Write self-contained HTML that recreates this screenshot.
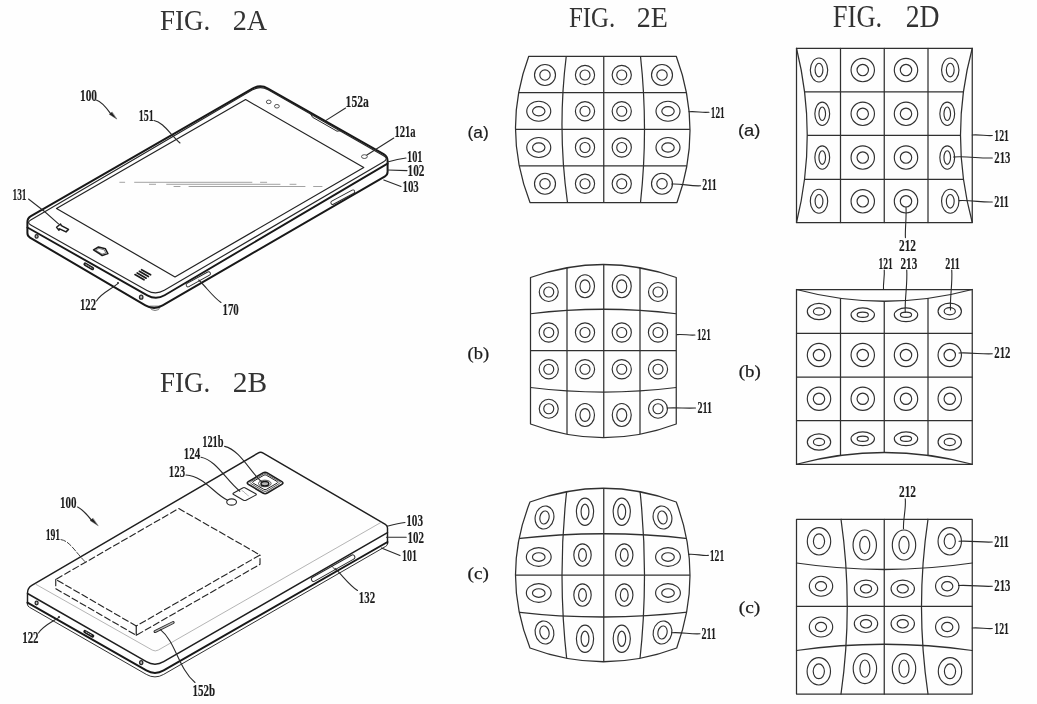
<!DOCTYPE html>
<html lang="en"><head><meta charset="utf-8"><title>FIG. 2A / 2B / 2E / 2D</title>
<style>
html,body{margin:0;padding:0;background:#fefefe;}
body{width:1037px;height:704px;overflow:hidden;font-family:"Liberation Serif",serif;}
svg{display:block;filter:grayscale(1);}
svg line, svg path{stroke-linecap:round;stroke-linejoin:round;}
</style></head>
<body>
<svg width="1037" height="704" viewBox="0 0 1037 704">
<rect x="0" y="0" width="1037" height="704" fill="#fefefe"/>
<g id="fig2a">
<text x="160" y="30.3" font-family='"Liberation Serif", serif' font-size="30" font-weight="normal" fill="#333" textLength="50.2" lengthAdjust="spacingAndGlyphs" >FIG.</text>
<text x="232.8" y="30.3" font-family='"Liberation Serif", serif' font-size="30" font-weight="normal" fill="#333" textLength="34.4" lengthAdjust="spacingAndGlyphs" >2A</text>
<path d="M149.6,306.4 L151.6,309.6 Q155,311.6 158.6,309.6 L160.4,306.4 Z" fill="#ececec" stroke="#555" stroke-width="0.7" />
<path d="M27.4,222.2 Q27.4,218.2 30.87,216.2 L252.4,88.59 Q260.2,84.1 268.03,88.54 L383.68,154.08 Q387.6,156.3 387.6,160.8 L387.6,171.8 Q387.6,174.8 385.01,176.31 L162.65,305.38 Q154,310.4 145.38,305.34 L29.99,237.62 Q27.4,236.1 27.4,233.1 Z" fill="none" stroke="#181818" stroke-width="2.0" />
<path d="M27.5,227.5 L147.3,295.37 Q156,300.3 164.61,295.22 L387.5,163.6" fill="none" stroke="#181818" stroke-width="1.9" />
<path d="M30.76,225.05 Q26.4,222.6 30.71,220.07 L252.54,89.86 Q260.3,85.3 268.12,89.76 L383.59,155.63 Q388.8,158.6 383.63,161.64 L164.32,290.34 Q155.7,295.4 146.99,290.49 Z" fill="none" stroke="#262626" stroke-width="1.15" />
<path d="M245.6,99.6 L363.75,167.5 L175,276.9 L56.5,208.5 Z" fill="none" stroke="#222" stroke-width="1.2" />
<line x1="119.8" y1="182.3" x2="124.7" y2="182.3" stroke="#7a7a7a" stroke-width="0.7" stroke-linecap="butt"/>
<line x1="134.6" y1="182.3" x2="251.9" y2="182.3" stroke="#7a7a7a" stroke-width="0.7" stroke-linecap="butt"/>
<line x1="260.5" y1="182.3" x2="266.7" y2="182.3" stroke="#7a7a7a" stroke-width="0.7" stroke-linecap="butt"/>
<line x1="149.4" y1="184.3" x2="155.6" y2="184.3" stroke="#7a7a7a" stroke-width="0.7" stroke-linecap="butt"/>
<line x1="166.7" y1="184.3" x2="280" y2="184.3" stroke="#7a7a7a" stroke-width="0.7" stroke-linecap="butt"/>
<line x1="290" y1="184.3" x2="296" y2="184.3" stroke="#7a7a7a" stroke-width="0.7" stroke-linecap="butt"/>
<line x1="174" y1="186.5" x2="180" y2="186.5" stroke="#7a7a7a" stroke-width="0.7" stroke-linecap="butt"/>
<line x1="189" y1="186.5" x2="305" y2="186.5" stroke="#7a7a7a" stroke-width="0.7" stroke-linecap="butt"/>
<line x1="313.6" y1="186.5" x2="322" y2="186.5" stroke="#7a7a7a" stroke-width="0.7" stroke-linecap="butt"/>
<ellipse cx="268.75" cy="101.9" rx="2.4" ry="1.8" fill="none" stroke="#2a2a2a" stroke-width="0.8"/>
<ellipse cx="276.9" cy="106.25" rx="2.4" ry="1.8" fill="none" stroke="#2a2a2a" stroke-width="0.8"/>
<ellipse cx="364.4" cy="156.6" rx="2.9" ry="1.9" fill="none" stroke="#2a2a2a" stroke-width="0.8"/>
<path d="M310.2,113.2 L312.6,117.3 L337.0,131.2 L341,130.6" fill="none" stroke="#2a2a2a" stroke-width="1.0" />
<line x1="188" y1="285" x2="208.6" y2="273.6" stroke="#2a2a2a" stroke-width="4.6" stroke-linecap="round"/>
<line x1="188" y1="285" x2="208.6" y2="273.6" stroke="#fefefe" stroke-width="2.8" stroke-linecap="round"/>
<line x1="332.6" y1="202.7" x2="353" y2="191.7" stroke="#2a2a2a" stroke-width="4.4" stroke-linecap="round"/>
<line x1="332.6" y1="202.7" x2="353" y2="191.7" stroke="#fefefe" stroke-width="2.6" stroke-linecap="round"/>
<ellipse cx="36.6" cy="236.4" rx="1.5" ry="1.8" fill="#bbb" stroke="#2a2a2a" stroke-width="1.3"/>
<ellipse cx="141.2" cy="297.2" rx="1.7" ry="2" fill="#bbb" stroke="#2a2a2a" stroke-width="1.3"/>
<line x1="85.2" y1="264.2" x2="92.4" y2="268.5" stroke="#1c1c1c" stroke-width="3.5" stroke-linecap="round"/>
<line x1="85.8" y1="264.5" x2="92" y2="268.2" stroke="#bbb" stroke-width="1.0" stroke-linecap="round" stroke-dasharray="1.2 1.2"/>
<ellipse cx="118" cy="283" rx="0.7" ry="0.7" fill="#222" stroke="#2a2a2a" stroke-width="0.8"/>
<path d="M56.6,227.2 L60.4,224 L61.4,225.6 L68.5,229.4 L66,231.9 L59.6,228.8 L59,230.2 Z" fill="none" stroke="#1c1c1c" stroke-width="1.5" />
<path d="M93.5,249.8 L98.5,247 L105.4,248.8 L107.9,253.6 L102.2,255.5 Z" fill="none" stroke="#1c1c1c" stroke-width="1.5" />
<path d="M96,250 L99,248.4 L104.2,249.9 L105.8,252.9 L102.4,254 Z" fill="none" stroke="#2a2a2a" stroke-width="0.6" />
<line x1="135" y1="274.6" x2="144" y2="279.8" stroke="#1c1c1c" stroke-width="1.7" />
<line x1="137.2" y1="272.95" x2="146.2" y2="278.15" stroke="#1c1c1c" stroke-width="1.7" />
<line x1="139.4" y1="271.3" x2="148.4" y2="276.5" stroke="#1c1c1c" stroke-width="1.7" />
<line x1="141.6" y1="269.65" x2="150.6" y2="274.85" stroke="#1c1c1c" stroke-width="1.7" />
<text x="80" y="101" font-family='"Liberation Serif", serif' font-size="16" font-weight="bold" fill="#1c1c1c" stroke="#1c1c1c" stroke-width="0.15" textLength="17" lengthAdjust="spacingAndGlyphs" >100</text>
<path d="M96.2,100 C101.5,101.5 105.5,106.5 110.6,113.6" fill="none" stroke="#2a2a2a" stroke-width="1.2" />
<path d="M116.6,118.9 L109.3,114.3 L111.9,112.2 Z" fill="#222" stroke="#2a2a2a" stroke-width="0.4" />
<text x="138.7" y="120.5" font-family='"Liberation Serif", serif' font-size="16" font-weight="bold" fill="#1c1c1c" stroke="#1c1c1c" stroke-width="0.15" textLength="15" lengthAdjust="spacingAndGlyphs" >151</text>
<path d="M154,120.5 C163,122 170,134 180,143" fill="none" stroke="#2a2a2a" stroke-width="1.1" />
<text x="12.5" y="200" font-family='"Liberation Serif", serif' font-size="16" font-weight="bold" fill="#1c1c1c" stroke="#1c1c1c" stroke-width="0.15" textLength="14" lengthAdjust="spacingAndGlyphs" >131</text>
<path d="M28.5,199 C38,206 48,214 58.5,223.8" fill="none" stroke="#2a2a2a" stroke-width="1.1" />
<text x="80" y="310" font-family='"Liberation Serif", serif' font-size="16" font-weight="bold" fill="#1c1c1c" stroke="#1c1c1c" stroke-width="0.15" textLength="16" lengthAdjust="spacingAndGlyphs" >122</text>
<path d="M96.5,301 C101,293 110,290 117.5,283.8" fill="none" stroke="#2a2a2a" stroke-width="1.1" />
<text x="222.5" y="315" font-family='"Liberation Serif", serif' font-size="16" font-weight="bold" fill="#1c1c1c" stroke="#1c1c1c" stroke-width="0.15" textLength="16.3" lengthAdjust="spacingAndGlyphs" >170</text>
<path d="M221,302.5 C213,297 207,288 198.8,280" fill="none" stroke="#2a2a2a" stroke-width="1.1" />
<text x="345.6" y="107" font-family='"Liberation Serif", serif' font-size="16" font-weight="bold" fill="#1c1c1c" stroke="#1c1c1c" stroke-width="0.15" textLength="23.2" lengthAdjust="spacingAndGlyphs" >152a</text>
<path d="M345.6,108 L325.6,120.6" fill="none" stroke="#2a2a2a" stroke-width="1.1" />
<text x="394.4" y="137" font-family='"Liberation Serif", serif' font-size="16" font-weight="bold" fill="#1c1c1c" stroke="#1c1c1c" stroke-width="0.15" textLength="21.2" lengthAdjust="spacingAndGlyphs" >121a</text>
<path d="M393.8,138 L366.9,155" fill="none" stroke="#2a2a2a" stroke-width="1.1" />
<text x="407" y="162" font-family='"Liberation Serif", serif' font-size="16" font-weight="bold" fill="#1c1c1c" stroke="#1c1c1c" stroke-width="0.15" textLength="15.5" lengthAdjust="spacingAndGlyphs" >101</text>
<path d="M406,158 C399,159 393,160.5 387.5,162" fill="none" stroke="#2a2a2a" stroke-width="1.1" />
<text x="407.5" y="175.6" font-family='"Liberation Serif", serif' font-size="16" font-weight="bold" fill="#1c1c1c" stroke="#1c1c1c" stroke-width="0.15" textLength="17" lengthAdjust="spacingAndGlyphs" >102</text>
<path d="M407,170.6 L387.5,170" fill="none" stroke="#2a2a2a" stroke-width="1.1" />
<text x="402.5" y="192" font-family='"Liberation Serif", serif' font-size="16" font-weight="bold" fill="#1c1c1c" stroke="#1c1c1c" stroke-width="0.15" textLength="16.3" lengthAdjust="spacingAndGlyphs" >103</text>
<path d="M401,186.5 L383.8,180" fill="none" stroke="#2a2a2a" stroke-width="1.1" />
</g>
<g id="fig2b">
<text x="160" y="391.7" font-family='"Liberation Serif", serif' font-size="30" font-weight="normal" fill="#333" textLength="50.2" lengthAdjust="spacingAndGlyphs" >FIG.</text>
<text x="232.8" y="391.7" font-family='"Liberation Serif", serif' font-size="30" font-weight="normal" fill="#333" textLength="34.4" lengthAdjust="spacingAndGlyphs" >2B</text>
<path d="M27.5,604 L27.5,592.9 Q27.5,587.9 31.82,585.38 L258.01,453.11 Q260.6,451.6 263.19,453.11 L385.34,524.34 Q387.5,525.6 387.5,528.1 L387.5,543.5" fill="none" stroke="#1e1e1e" stroke-width="1.45" />
<path d="M27.5,603 L27.55,604.6 Q27.6,606.2 29.33,607.2 L146.33,674.42 Q155,679.4 163.66,674.4 L385.67,546.4 Q387.4,545.4 387.45,543.95 L387.5,542.5" fill="none" stroke="#262626" stroke-width="0.95" />
<path d="M27.5,602.6 L146.32,670.44 Q155,675.4 163.67,670.42 L387.5,542" fill="none" stroke="#181818" stroke-width="1.95" />
<path d="M27.5,593.5 L146.33,661.72 Q155,666.7 163.66,661.71 L387.5,532.7" fill="none" stroke="#1e1e1e" stroke-width="1.5" />
<path d="M36,584.4 L152.25,650.08 Q155.3,651.8 158.34,650.06 L381,522.4" fill="none" stroke="#8c8c8c" stroke-width="0.65" />
<path d="M136.25,626 L55.75,579.4 L178.75,508.5 L260,555 Z" fill="none" stroke="#262626" stroke-width="1.15" stroke-dasharray="6.3 3.1" stroke-linecap="butt"/>
<path d="M55.75,579.4 L55.75,588.7 L136.25,635.3 L260,564.3 L260,555" fill="none" stroke="#262626" stroke-width="1.15" stroke-dasharray="6.3 3.1" stroke-linecap="butt"/>
<line x1="136.25" y1="626" x2="136.25" y2="635.3" stroke="#1e1e1e" stroke-width="1.2" />
<path d="M248.32,484.35 Q246.1,483 248.32,481.65 L262.88,472.85 Q265.1,471.5 267.32,472.85 L281.88,481.65 Q284.1,483 281.88,484.35 L267.32,493.15 Q265.1,494.5 262.88,493.15 Z" fill="none" stroke="#1a1a1a" stroke-width="1.5" />
<path d="M248.6,484.0 L265.1,493.4 L281.6,484.0" fill="none" stroke="#333" stroke-width="0.7" />
<path d="M250.82,483.52 Q249.1,482.5 250.82,481.48 L263.38,474.02 Q265.1,473 266.82,474.02 L279.38,481.48 Q281.1,482.5 279.38,483.52 L266.82,490.98 Q265.1,492 263.38,490.98 Z" fill="none" stroke="#2a2a2a" stroke-width="0.8" />
<path d="M252.91,483 Q251.7,482.3 252.91,481.6 L263.89,475.2 Q265.1,474.5 266.31,475.2 L277.29,481.6 Q278.5,482.3 277.29,483 L266.31,489.4 Q265.1,490.1 263.89,489.4 Z" fill="none" stroke="#222" stroke-width="1.0" />
<ellipse cx="264.8" cy="483.5" rx="6.3" ry="3.3" fill="none" stroke="#2a2a2a" stroke-width="0.8"/>
<ellipse cx="264.9" cy="483.7" rx="3.9" ry="2.2" fill="#b5b5b5" stroke="#161616" stroke-width="1.5"/>
<path d="M233.6,494.54 Q232.3,493.8 233.61,493.06 L242.69,487.94 Q244,487.2 245.31,487.93 L255.69,493.67 Q257,494.4 255.68,495.11 L246.12,500.19 Q244.8,500.9 243.5,500.16 Z" fill="none" stroke="#2a2a2a" stroke-width="1.1" />
<path d="M242,490.6 l2,1.2 l1,1.4 l2.2,1.4 l1.2,1.4" fill="none" stroke="#9a9a9a" stroke-width="0.7" />
<ellipse cx="231.6" cy="502" rx="4.9" ry="3.1" fill="none" stroke="#2a2a2a" stroke-width="1.1"/>
<line x1="155" y1="631.6" x2="173.2" y2="622.5" stroke="#2a2a2a" stroke-width="2.9" stroke-linecap="round"/>
<line x1="155.2" y1="631.5" x2="173" y2="622.6" stroke="#bdbdbd" stroke-width="1.2" stroke-linecap="round"/>
<line x1="313.6" y1="579.2" x2="352.6" y2="557.2" stroke="#2a2a2a" stroke-width="5.4" stroke-linecap="round"/>
<line x1="313.6" y1="579.2" x2="352.6" y2="557.2" stroke="#fefefe" stroke-width="3.6" stroke-linecap="round"/>
<line x1="332" y1="566.2" x2="335.4" y2="570.2" stroke="#2a2a2a" stroke-width="0.8" />
<ellipse cx="36.6" cy="603" rx="1.5" ry="1.8" fill="#bbb" stroke="#2a2a2a" stroke-width="1.3"/>
<ellipse cx="141.2" cy="662.6" rx="1.6" ry="2" fill="#bbb" stroke="#2a2a2a" stroke-width="1.3"/>
<line x1="85" y1="631.6" x2="92.6" y2="636" stroke="#1c1c1c" stroke-width="3.4" stroke-linecap="round"/>
<line x1="86" y1="632" x2="91.8" y2="635.4" stroke="#bbb" stroke-width="1.0" stroke-linecap="round" stroke-dasharray="1.2 1.2"/>
<ellipse cx="59" cy="617" rx="0.7" ry="0.7" fill="#222" stroke="#2a2a2a" stroke-width="0.8"/>
<text x="60" y="508" font-family='"Liberation Serif", serif' font-size="16" font-weight="bold" fill="#1c1c1c" stroke="#1c1c1c" stroke-width="0.15" textLength="16.5" lengthAdjust="spacingAndGlyphs" >100</text>
<path d="M77.6,507 C82,509 86.5,514 91.4,520" fill="none" stroke="#2a2a2a" stroke-width="1.2" />
<path d="M97.9,525.6 L90.2,520.6 L92.8,518.4 Z" fill="#222" stroke="#2a2a2a" stroke-width="0.4" />
<text x="45.7" y="540" font-family='"Liberation Serif", serif' font-size="16" font-weight="bold" fill="#1c1c1c" stroke="#1c1c1c" stroke-width="0.15" textLength="14.5" lengthAdjust="spacingAndGlyphs" >191</text>
<path d="M61,539.6 C70,541 76,553 86,562.6" fill="none" stroke="#2a2a2a" stroke-width="0.9" stroke-dasharray="5 2"/>
<text x="22.2" y="643" font-family='"Liberation Serif", serif' font-size="16" font-weight="bold" fill="#1c1c1c" stroke="#1c1c1c" stroke-width="0.15" textLength="16.4" lengthAdjust="spacingAndGlyphs" >122</text>
<path d="M38.5,633 C43,626 52,622 58.6,617.6" fill="none" stroke="#2a2a2a" stroke-width="1.1" />
<text x="168.8" y="476.6" font-family='"Liberation Serif", serif' font-size="16" font-weight="bold" fill="#1c1c1c" stroke="#1c1c1c" stroke-width="0.15" textLength="16.3" lengthAdjust="spacingAndGlyphs" >123</text>
<path d="M186,475 C204,476 214,494 227.6,500.2" fill="none" stroke="#2a2a2a" stroke-width="1.1" />
<text x="183.8" y="459" font-family='"Liberation Serif", serif' font-size="16" font-weight="bold" fill="#1c1c1c" stroke="#1c1c1c" stroke-width="0.15" textLength="16.4" lengthAdjust="spacingAndGlyphs" >124</text>
<path d="M201,457.2 C216,460 226,480 239.8,491.2" fill="none" stroke="#2a2a2a" stroke-width="1.1" />
<text x="202.2" y="447.3" font-family='"Liberation Serif", serif' font-size="16" font-weight="bold" fill="#1c1c1c" stroke="#1c1c1c" stroke-width="0.15" textLength="21.4" lengthAdjust="spacingAndGlyphs" >121b</text>
<path d="M224.6,446.4 C240,450 250,472 262.2,482.4" fill="none" stroke="#2a2a2a" stroke-width="1.1" />
<text x="406.2" y="525.8" font-family='"Liberation Serif", serif' font-size="16" font-weight="bold" fill="#1c1c1c" stroke="#1c1c1c" stroke-width="0.15" textLength="16.8" lengthAdjust="spacingAndGlyphs" >103</text>
<path d="M405,522.5 C398,523.5 392,525 387,526.2" fill="none" stroke="#2a2a2a" stroke-width="1.1" />
<text x="407.5" y="542.8" font-family='"Liberation Serif", serif' font-size="16" font-weight="bold" fill="#1c1c1c" stroke="#1c1c1c" stroke-width="0.15" textLength="16.4" lengthAdjust="spacingAndGlyphs" >102</text>
<path d="M406.2,537.3 L386.5,537.3" fill="none" stroke="#2a2a2a" stroke-width="1.1" />
<text x="402" y="561.2" font-family='"Liberation Serif", serif' font-size="16" font-weight="bold" fill="#1c1c1c" stroke="#1c1c1c" stroke-width="0.15" textLength="15" lengthAdjust="spacingAndGlyphs" >101</text>
<path d="M400,555.6 L381.4,548" fill="none" stroke="#2a2a2a" stroke-width="1.1" />
<text x="358.8" y="603" font-family='"Liberation Serif", serif' font-size="16" font-weight="bold" fill="#1c1c1c" stroke="#1c1c1c" stroke-width="0.15" textLength="16.3" lengthAdjust="spacingAndGlyphs" >132</text>
<path d="M357.5,590.5 C349,585 343,576 335,568.4" fill="none" stroke="#2a2a2a" stroke-width="1.1" />
<text x="192.5" y="696" font-family='"Liberation Serif", serif' font-size="16" font-weight="bold" fill="#1c1c1c" stroke="#1c1c1c" stroke-width="0.15" textLength="22.6" lengthAdjust="spacingAndGlyphs" >152b</text>
<path d="M195,682.5 C178,668 176,642 160.4,629.6" fill="none" stroke="#2a2a2a" stroke-width="1.1" />
</g>
<g id="fig2e">
<text x="569" y="27.4" font-family='"Liberation Serif", serif' font-size="28.5" font-weight="normal" fill="#333" textLength="46.3" lengthAdjust="spacingAndGlyphs" >FIG.</text>
<text x="636.8" y="27.4" font-family='"Liberation Serif", serif' font-size="28.5" font-weight="normal" fill="#333" textLength="31.1" lengthAdjust="spacingAndGlyphs" >2E</text>
<clipPath id="clip1"><path d="M528.75,56.25 L676.25,56.25 Q703.38,129.43 677,202.5 L530,202.5 Q501.62,129.43 528.75,56.25 Z"/></clipPath>
<g clip-path="url(#clip1)">
<path d="M566.25,56.25 Q557.12,129.43 567.5,202.5 " fill="none" stroke="#303030" stroke-width="1.25" />
<path d="M603.75,56.25 L603.75,202.5" fill="none" stroke="#303030" stroke-width="1.25" />
<path d="M640.5,56.25 Q648.5,129.43 640.5,202.5 " fill="none" stroke="#303030" stroke-width="1.25" />
<path d="M505,92.5 L700,92.5" fill="none" stroke="#303030" stroke-width="1.25" />
<path d="M505,129.25 L700,129.25" fill="none" stroke="#303030" stroke-width="1.25" />
<path d="M505,165.75 L700,165.75" fill="none" stroke="#303030" stroke-width="1.25" />
</g>
<path d="M528.75,56.25 L676.25,56.25 Q703.38,129.43 677,202.5 L530,202.5 Q501.62,129.43 528.75,56.25 Z" fill="none" stroke="#303030" stroke-width="1.25" />
<ellipse cx="545" cy="75" rx="10.5" ry="10.5" fill="none" stroke="#303030" stroke-width="1.15"/>
<ellipse cx="545" cy="75" rx="5.2" ry="5.2" fill="none" stroke="#303030" stroke-width="1.15"/>
<ellipse cx="585" cy="75" rx="9.6" ry="9.6" fill="none" stroke="#303030" stroke-width="1.15"/>
<ellipse cx="585" cy="75" rx="5" ry="5" fill="none" stroke="#303030" stroke-width="1.15"/>
<ellipse cx="621.75" cy="75" rx="9.6" ry="9.6" fill="none" stroke="#303030" stroke-width="1.15"/>
<ellipse cx="621.75" cy="75" rx="5" ry="5" fill="none" stroke="#303030" stroke-width="1.15"/>
<ellipse cx="662" cy="75" rx="10.5" ry="10.5" fill="none" stroke="#303030" stroke-width="1.15"/>
<ellipse cx="662" cy="75" rx="5.2" ry="5.2" fill="none" stroke="#303030" stroke-width="1.15"/>
<ellipse cx="545" cy="183.75" rx="10.5" ry="10.5" fill="none" stroke="#303030" stroke-width="1.15"/>
<ellipse cx="545" cy="183.75" rx="5.2" ry="5.2" fill="none" stroke="#303030" stroke-width="1.15"/>
<ellipse cx="585" cy="183.75" rx="9.6" ry="9.6" fill="none" stroke="#303030" stroke-width="1.15"/>
<ellipse cx="585" cy="183.75" rx="5" ry="5" fill="none" stroke="#303030" stroke-width="1.15"/>
<ellipse cx="621.75" cy="183.75" rx="9.6" ry="9.6" fill="none" stroke="#303030" stroke-width="1.15"/>
<ellipse cx="621.75" cy="183.75" rx="5" ry="5" fill="none" stroke="#303030" stroke-width="1.15"/>
<ellipse cx="662" cy="183.75" rx="10.5" ry="10.5" fill="none" stroke="#303030" stroke-width="1.15"/>
<ellipse cx="662" cy="183.75" rx="5.2" ry="5.2" fill="none" stroke="#303030" stroke-width="1.15"/>
<ellipse cx="538.75" cy="111.25" rx="12" ry="10" fill="none" stroke="#303030" stroke-width="1.15"/>
<ellipse cx="538.75" cy="111.25" rx="6.2" ry="4.6" fill="none" stroke="#303030" stroke-width="1.15"/>
<ellipse cx="585" cy="111.25" rx="9.6" ry="9.6" fill="none" stroke="#303030" stroke-width="1.15"/>
<ellipse cx="585" cy="111.25" rx="5" ry="5" fill="none" stroke="#303030" stroke-width="1.15"/>
<ellipse cx="621.75" cy="111.25" rx="9.6" ry="9.6" fill="none" stroke="#303030" stroke-width="1.15"/>
<ellipse cx="621.75" cy="111.25" rx="5" ry="5" fill="none" stroke="#303030" stroke-width="1.15"/>
<ellipse cx="668" cy="111.25" rx="12" ry="10" fill="none" stroke="#303030" stroke-width="1.15"/>
<ellipse cx="668" cy="111.25" rx="6.2" ry="4.6" fill="none" stroke="#303030" stroke-width="1.15"/>
<ellipse cx="538.75" cy="147.5" rx="12" ry="10" fill="none" stroke="#303030" stroke-width="1.15"/>
<ellipse cx="538.75" cy="147.5" rx="6.2" ry="4.6" fill="none" stroke="#303030" stroke-width="1.15"/>
<ellipse cx="585" cy="147.5" rx="9.6" ry="9.6" fill="none" stroke="#303030" stroke-width="1.15"/>
<ellipse cx="585" cy="147.5" rx="5" ry="5" fill="none" stroke="#303030" stroke-width="1.15"/>
<ellipse cx="621.75" cy="147.5" rx="9.6" ry="9.6" fill="none" stroke="#303030" stroke-width="1.15"/>
<ellipse cx="621.75" cy="147.5" rx="5" ry="5" fill="none" stroke="#303030" stroke-width="1.15"/>
<ellipse cx="668" cy="147.5" rx="12" ry="10" fill="none" stroke="#303030" stroke-width="1.15"/>
<ellipse cx="668" cy="147.5" rx="6.2" ry="4.6" fill="none" stroke="#303030" stroke-width="1.15"/>
<text x="467.6" y="137.8" font-family='"Liberation Sans", sans-serif' font-size="17" font-weight="normal" fill="#1c1c1c" textLength="21.2" lengthAdjust="spacingAndGlyphs" stroke="#1c1c1c" stroke-width="0.2">(a)</text>
<text x="710.8" y="117.6" font-family='"Liberation Serif", serif' font-size="16" font-weight="bold" fill="#1c1c1c" stroke="#1c1c1c" stroke-width="0.15" textLength="13.8" lengthAdjust="spacingAndGlyphs" >121</text>
<path d="M688.8,111.8 C696,111 702,113 709,112.2" fill="none" stroke="#2a2a2a" stroke-width="1.1" />
<text x="702.3" y="190.2" font-family='"Liberation Serif", serif' font-size="16" font-weight="bold" fill="#1c1c1c" stroke="#1c1c1c" stroke-width="0.15" textLength="14.3" lengthAdjust="spacingAndGlyphs" >211</text>
<path d="M671.6,184 C682,183.4 690,186.4 700.6,185.8" fill="none" stroke="#2a2a2a" stroke-width="1.1" />
<clipPath id="clip2"><path d="M530.5,277.5 Q603.42,251.5 676.25,277.5 L676.25,424 Q603.42,451.4 530.5,424 Z"/></clipPath>
<g clip-path="url(#clip2)">
<path d="M567,250 L567,450" fill="none" stroke="#303030" stroke-width="1.25" />
<path d="M603.75,250 L603.75,450" fill="none" stroke="#303030" stroke-width="1.25" />
<path d="M640,250 L640,450" fill="none" stroke="#303030" stroke-width="1.25" />
<path d="M530.5,313.75 Q603.42,304.75 676.25,313.75 " fill="none" stroke="#303030" stroke-width="1.25" />
<path d="M530.5,350.5 L676.25,350.5" fill="none" stroke="#303030" stroke-width="1.25" />
<path d="M530.5,387.5 Q603.42,396.5 676.25,387.5 " fill="none" stroke="#303030" stroke-width="1.25" />
</g>
<path d="M530.5,277.5 Q603.42,251.5 676.25,277.5 L676.25,424 Q603.42,451.4 530.5,424 Z" fill="none" stroke="#303030" stroke-width="1.25" />
<ellipse cx="548.75" cy="292" rx="9.5" ry="9.5" fill="none" stroke="#303030" stroke-width="1.15"/>
<ellipse cx="548.75" cy="292" rx="5" ry="5" fill="none" stroke="#303030" stroke-width="1.15"/>
<ellipse cx="658" cy="292" rx="9.5" ry="9.5" fill="none" stroke="#303030" stroke-width="1.15"/>
<ellipse cx="658" cy="292" rx="5" ry="5" fill="none" stroke="#303030" stroke-width="1.15"/>
<ellipse cx="585" cy="286.25" rx="9.5" ry="11.5" fill="none" stroke="#303030" stroke-width="1.15"/>
<ellipse cx="585" cy="286.25" rx="5" ry="6.4" fill="none" stroke="#303030" stroke-width="1.15"/>
<ellipse cx="621.75" cy="286.25" rx="9.5" ry="11.5" fill="none" stroke="#303030" stroke-width="1.15"/>
<ellipse cx="621.75" cy="286.25" rx="5" ry="6.4" fill="none" stroke="#303030" stroke-width="1.15"/>
<ellipse cx="548.75" cy="332.5" rx="9.6" ry="9.6" fill="none" stroke="#303030" stroke-width="1.15"/>
<ellipse cx="548.75" cy="332.5" rx="5" ry="5" fill="none" stroke="#303030" stroke-width="1.15"/>
<ellipse cx="585" cy="332.5" rx="9.6" ry="9.6" fill="none" stroke="#303030" stroke-width="1.15"/>
<ellipse cx="585" cy="332.5" rx="5" ry="5" fill="none" stroke="#303030" stroke-width="1.15"/>
<ellipse cx="621.75" cy="332.5" rx="9.6" ry="9.6" fill="none" stroke="#303030" stroke-width="1.15"/>
<ellipse cx="621.75" cy="332.5" rx="5" ry="5" fill="none" stroke="#303030" stroke-width="1.15"/>
<ellipse cx="658" cy="332.5" rx="9.6" ry="9.6" fill="none" stroke="#303030" stroke-width="1.15"/>
<ellipse cx="658" cy="332.5" rx="5" ry="5" fill="none" stroke="#303030" stroke-width="1.15"/>
<ellipse cx="548.75" cy="369.25" rx="9.6" ry="9.6" fill="none" stroke="#303030" stroke-width="1.15"/>
<ellipse cx="548.75" cy="369.25" rx="5" ry="5" fill="none" stroke="#303030" stroke-width="1.15"/>
<ellipse cx="585" cy="369.25" rx="9.6" ry="9.6" fill="none" stroke="#303030" stroke-width="1.15"/>
<ellipse cx="585" cy="369.25" rx="5" ry="5" fill="none" stroke="#303030" stroke-width="1.15"/>
<ellipse cx="621.75" cy="369.25" rx="9.6" ry="9.6" fill="none" stroke="#303030" stroke-width="1.15"/>
<ellipse cx="621.75" cy="369.25" rx="5" ry="5" fill="none" stroke="#303030" stroke-width="1.15"/>
<ellipse cx="658" cy="369.25" rx="9.6" ry="9.6" fill="none" stroke="#303030" stroke-width="1.15"/>
<ellipse cx="658" cy="369.25" rx="5" ry="5" fill="none" stroke="#303030" stroke-width="1.15"/>
<ellipse cx="548.75" cy="408.75" rx="9.5" ry="9.5" fill="none" stroke="#303030" stroke-width="1.15"/>
<ellipse cx="548.75" cy="408.75" rx="5" ry="5" fill="none" stroke="#303030" stroke-width="1.15"/>
<ellipse cx="658" cy="408.75" rx="9.5" ry="9.5" fill="none" stroke="#303030" stroke-width="1.15"/>
<ellipse cx="658" cy="408.75" rx="5" ry="5" fill="none" stroke="#303030" stroke-width="1.15"/>
<ellipse cx="585" cy="415" rx="9.5" ry="11.5" fill="none" stroke="#303030" stroke-width="1.15"/>
<ellipse cx="585" cy="415" rx="5" ry="6.4" fill="none" stroke="#303030" stroke-width="1.15"/>
<ellipse cx="621.75" cy="415" rx="9.5" ry="11.5" fill="none" stroke="#303030" stroke-width="1.15"/>
<ellipse cx="621.75" cy="415" rx="5" ry="6.4" fill="none" stroke="#303030" stroke-width="1.15"/>
<text x="467.6" y="359" font-family='"Liberation Serif", serif' font-size="16.5" font-weight="normal" fill="#1c1c1c" textLength="21.5" lengthAdjust="spacingAndGlyphs" stroke="#1c1c1c" stroke-width="0.25">(b)</text>
<text x="697" y="340" font-family='"Liberation Serif", serif' font-size="16" font-weight="bold" fill="#1c1c1c" stroke="#1c1c1c" stroke-width="0.15" textLength="13.8" lengthAdjust="spacingAndGlyphs" >121</text>
<path d="M677,334.6 C684,334 689,335.6 695,335" fill="none" stroke="#2a2a2a" stroke-width="1.1" />
<text x="697.5" y="412.5" font-family='"Liberation Serif", serif' font-size="16" font-weight="bold" fill="#1c1c1c" stroke="#1c1c1c" stroke-width="0.15" textLength="14.5" lengthAdjust="spacingAndGlyphs" >211</text>
<path d="M667,408 C678,407.4 686,408.6 695.5,408" fill="none" stroke="#2a2a2a" stroke-width="1.1" />
<clipPath id="clip3"><path d="M530,502 Q603.67,474.5 676.25,502 Q703.52,575 676.7,648 Q603.45,675.5 530,648 Q501,575 530,502 Z"/></clipPath>
<g clip-path="url(#clip3)">
<path d="M568,480 Q556,575 568,670 " fill="none" stroke="#303030" stroke-width="1.25" />
<path d="M603.75,480 L603.75,670" fill="none" stroke="#303030" stroke-width="1.25" />
<path d="M638.75,480 Q650.25,575 638.75,670 " fill="none" stroke="#303030" stroke-width="1.25" />
<path d="M510,539.5 Q603.8,528 696,539.5 " fill="none" stroke="#303030" stroke-width="1.25" />
<path d="M510,575 L696,575" fill="none" stroke="#303030" stroke-width="1.25" />
<path d="M510,611.2 Q603.8,622.8 696,611.2 " fill="none" stroke="#303030" stroke-width="1.25" />
</g>
<path d="M530,502 Q603.67,474.5 676.25,502 Q703.52,575 676.7,648 Q603.45,675.5 530,648 Q501,575 530,502 Z" fill="none" stroke="#303030" stroke-width="1.25" />
<ellipse cx="544.5" cy="517.5" rx="9.3" ry="11.6" fill="none" stroke="#303030" stroke-width="1.15" transform="rotate(12 544.5 517.5)"/>
<ellipse cx="544.5" cy="517.5" rx="4.6" ry="6.6" fill="none" stroke="#303030" stroke-width="1.15" transform="rotate(12 544.5 517.5)"/>
<ellipse cx="662.5" cy="517.5" rx="9.3" ry="11.6" fill="none" stroke="#303030" stroke-width="1.15" transform="rotate(-12 662.5 517.5)"/>
<ellipse cx="662.5" cy="517.5" rx="4.6" ry="6.6" fill="none" stroke="#303030" stroke-width="1.15" transform="rotate(-12 662.5 517.5)"/>
<ellipse cx="585" cy="511.75" rx="8.6" ry="13.6" fill="none" stroke="#303030" stroke-width="1.15"/>
<ellipse cx="585" cy="511.75" rx="3.9" ry="7.6" fill="none" stroke="#303030" stroke-width="1.15"/>
<ellipse cx="621.75" cy="511.75" rx="8.6" ry="13.6" fill="none" stroke="#303030" stroke-width="1.15"/>
<ellipse cx="621.75" cy="511.75" rx="3.9" ry="7.6" fill="none" stroke="#303030" stroke-width="1.15"/>
<ellipse cx="538.75" cy="557" rx="12.4" ry="9.4" fill="none" stroke="#303030" stroke-width="1.15"/>
<ellipse cx="538.75" cy="557" rx="6.3" ry="4.3" fill="none" stroke="#303030" stroke-width="1.15"/>
<ellipse cx="668" cy="557" rx="12.4" ry="9.4" fill="none" stroke="#303030" stroke-width="1.15"/>
<ellipse cx="668" cy="557" rx="6.3" ry="4.3" fill="none" stroke="#303030" stroke-width="1.15"/>
<ellipse cx="582.5" cy="555" rx="8.7" ry="11.2" fill="none" stroke="#303030" stroke-width="1.15"/>
<ellipse cx="582.5" cy="555" rx="3.9" ry="6.4" fill="none" stroke="#303030" stroke-width="1.15"/>
<ellipse cx="624.25" cy="555" rx="8.7" ry="11.2" fill="none" stroke="#303030" stroke-width="1.15"/>
<ellipse cx="624.25" cy="555" rx="3.9" ry="6.4" fill="none" stroke="#303030" stroke-width="1.15"/>
<ellipse cx="538.75" cy="593" rx="12.4" ry="9.4" fill="none" stroke="#303030" stroke-width="1.15"/>
<ellipse cx="538.75" cy="593" rx="6.3" ry="4.3" fill="none" stroke="#303030" stroke-width="1.15"/>
<ellipse cx="668" cy="593" rx="12.4" ry="9.4" fill="none" stroke="#303030" stroke-width="1.15"/>
<ellipse cx="668" cy="593" rx="6.3" ry="4.3" fill="none" stroke="#303030" stroke-width="1.15"/>
<ellipse cx="582.5" cy="595" rx="8.7" ry="11.2" fill="none" stroke="#303030" stroke-width="1.15"/>
<ellipse cx="582.5" cy="595" rx="3.9" ry="6.4" fill="none" stroke="#303030" stroke-width="1.15"/>
<ellipse cx="624.25" cy="595" rx="8.7" ry="11.2" fill="none" stroke="#303030" stroke-width="1.15"/>
<ellipse cx="624.25" cy="595" rx="3.9" ry="6.4" fill="none" stroke="#303030" stroke-width="1.15"/>
<ellipse cx="544.5" cy="632.5" rx="9.3" ry="11.6" fill="none" stroke="#303030" stroke-width="1.15" transform="rotate(-12 544.5 632.5)"/>
<ellipse cx="544.5" cy="632.5" rx="4.6" ry="6.6" fill="none" stroke="#303030" stroke-width="1.15" transform="rotate(-12 544.5 632.5)"/>
<ellipse cx="662.5" cy="632.5" rx="9.3" ry="11.6" fill="none" stroke="#303030" stroke-width="1.15" transform="rotate(12 662.5 632.5)"/>
<ellipse cx="662.5" cy="632.5" rx="4.6" ry="6.6" fill="none" stroke="#303030" stroke-width="1.15" transform="rotate(12 662.5 632.5)"/>
<ellipse cx="585" cy="638.75" rx="8.6" ry="13.6" fill="none" stroke="#303030" stroke-width="1.15"/>
<ellipse cx="585" cy="638.75" rx="3.9" ry="7.6" fill="none" stroke="#303030" stroke-width="1.15"/>
<ellipse cx="621.75" cy="638.75" rx="8.6" ry="13.6" fill="none" stroke="#303030" stroke-width="1.15"/>
<ellipse cx="621.75" cy="638.75" rx="3.9" ry="7.6" fill="none" stroke="#303030" stroke-width="1.15"/>
<text x="467.6" y="579" font-family='"Liberation Serif", serif' font-size="16.5" font-weight="normal" fill="#1c1c1c" textLength="21.2" lengthAdjust="spacingAndGlyphs" stroke="#1c1c1c" stroke-width="0.25">(c)</text>
<text x="709.8" y="560.5" font-family='"Liberation Serif", serif' font-size="16" font-weight="bold" fill="#1c1c1c" stroke="#1c1c1c" stroke-width="0.15" textLength="14.4" lengthAdjust="spacingAndGlyphs" >121</text>
<path d="M688.8,554.4 C696,553.8 702,556 708.4,555.4" fill="none" stroke="#2a2a2a" stroke-width="1.1" />
<text x="701.6" y="638.5" font-family='"Liberation Serif", serif' font-size="16" font-weight="bold" fill="#1c1c1c" stroke="#1c1c1c" stroke-width="0.15" textLength="14.4" lengthAdjust="spacingAndGlyphs" >211</text>
<path d="M671.6,632.8 C682,632 690,634.4 700,633.8" fill="none" stroke="#2a2a2a" stroke-width="1.1" />
</g>
<g id="fig2d">
<text x="832.8" y="27.4" font-family='"Liberation Serif", serif' font-size="30.5" font-weight="normal" fill="#333" textLength="49.4" lengthAdjust="spacingAndGlyphs" >FIG.</text>
<text x="905.7" y="27.4" font-family='"Liberation Serif", serif' font-size="30.5" font-weight="normal" fill="#333" textLength="33.8" lengthAdjust="spacingAndGlyphs" >2D</text>
<clipPath id="clip4"><path d="M796.5,48.25 L972.25,48.25 Q948.75,135.38 972.25,222.5 L796.5,222.5 Q818,135.38 796.5,48.25 Z"/></clipPath>
<g clip-path="url(#clip4)">
<path d="M796.5,91.75 L972.25,91.75" fill="none" stroke="#303030" stroke-width="1.25" />
<path d="M796.5,135.25 L972.25,135.25" fill="none" stroke="#303030" stroke-width="1.25" />
<path d="M796.5,179.25 L972.25,179.25" fill="none" stroke="#303030" stroke-width="1.25" />
</g>
<path d="M840.5,48.25 L840.5,222.5" fill="none" stroke="#303030" stroke-width="1.25" />
<path d="M884.25,48.25 L884.25,222.5" fill="none" stroke="#303030" stroke-width="1.25" />
<path d="M928,48.25 L928,222.5" fill="none" stroke="#303030" stroke-width="1.25" />
<path d="M796.5,48.25 Q818,135.38 796.5,222.5 " fill="none" stroke="#303030" stroke-width="1.25" />
<path d="M972.25,48.25 Q948.75,135.38 972.25,222.5 " fill="none" stroke="#303030" stroke-width="1.25" />
<path d="M796.5,48.25 L972.25,48.25 L972.25,222.5 L796.5,222.5 Z" fill="none" stroke="#303030" stroke-width="1.25" />
<ellipse cx="819" cy="70" rx="8.7" ry="12" fill="none" stroke="#303030" stroke-width="1.15"/>
<ellipse cx="819" cy="70" rx="3.9" ry="6.8" fill="none" stroke="#303030" stroke-width="1.15"/>
<ellipse cx="950.25" cy="70" rx="8.7" ry="12" fill="none" stroke="#303030" stroke-width="1.15"/>
<ellipse cx="950.25" cy="70" rx="3.9" ry="6.8" fill="none" stroke="#303030" stroke-width="1.15"/>
<ellipse cx="862.75" cy="70" rx="11.7" ry="11.7" fill="none" stroke="#303030" stroke-width="1.15"/>
<ellipse cx="862.75" cy="70" rx="5.7" ry="5.7" fill="none" stroke="#303030" stroke-width="1.15"/>
<ellipse cx="906" cy="70" rx="11.7" ry="11.7" fill="none" stroke="#303030" stroke-width="1.15"/>
<ellipse cx="906" cy="70" rx="5.7" ry="5.7" fill="none" stroke="#303030" stroke-width="1.15"/>
<ellipse cx="819" cy="201.25" rx="8.7" ry="12" fill="none" stroke="#303030" stroke-width="1.15"/>
<ellipse cx="819" cy="201.25" rx="3.9" ry="6.8" fill="none" stroke="#303030" stroke-width="1.15"/>
<ellipse cx="950.25" cy="201.25" rx="8.7" ry="12" fill="none" stroke="#303030" stroke-width="1.15"/>
<ellipse cx="950.25" cy="201.25" rx="3.9" ry="6.8" fill="none" stroke="#303030" stroke-width="1.15"/>
<ellipse cx="862.75" cy="201.25" rx="11.7" ry="11.7" fill="none" stroke="#303030" stroke-width="1.15"/>
<ellipse cx="862.75" cy="201.25" rx="5.7" ry="5.7" fill="none" stroke="#303030" stroke-width="1.15"/>
<ellipse cx="906" cy="201.25" rx="11.7" ry="11.7" fill="none" stroke="#303030" stroke-width="1.15"/>
<ellipse cx="906" cy="201.25" rx="5.7" ry="5.7" fill="none" stroke="#303030" stroke-width="1.15"/>
<ellipse cx="822.25" cy="113.75" rx="7.4" ry="11.7" fill="none" stroke="#303030" stroke-width="1.15"/>
<ellipse cx="822.25" cy="113.75" rx="3.3" ry="6.8" fill="none" stroke="#303030" stroke-width="1.15"/>
<ellipse cx="947.25" cy="113.75" rx="7.4" ry="11.7" fill="none" stroke="#303030" stroke-width="1.15"/>
<ellipse cx="947.25" cy="113.75" rx="3.3" ry="6.8" fill="none" stroke="#303030" stroke-width="1.15"/>
<ellipse cx="862.75" cy="113.75" rx="11.7" ry="11.7" fill="none" stroke="#303030" stroke-width="1.15"/>
<ellipse cx="862.75" cy="113.75" rx="5.7" ry="5.7" fill="none" stroke="#303030" stroke-width="1.15"/>
<ellipse cx="906" cy="113.75" rx="11.7" ry="11.7" fill="none" stroke="#303030" stroke-width="1.15"/>
<ellipse cx="906" cy="113.75" rx="5.7" ry="5.7" fill="none" stroke="#303030" stroke-width="1.15"/>
<ellipse cx="822.25" cy="157.5" rx="7.4" ry="11.7" fill="none" stroke="#303030" stroke-width="1.15"/>
<ellipse cx="822.25" cy="157.5" rx="3.3" ry="6.8" fill="none" stroke="#303030" stroke-width="1.15"/>
<ellipse cx="947.25" cy="157.5" rx="7.4" ry="11.7" fill="none" stroke="#303030" stroke-width="1.15"/>
<ellipse cx="947.25" cy="157.5" rx="3.3" ry="6.8" fill="none" stroke="#303030" stroke-width="1.15"/>
<ellipse cx="862.75" cy="157.5" rx="11.7" ry="11.7" fill="none" stroke="#303030" stroke-width="1.15"/>
<ellipse cx="862.75" cy="157.5" rx="5.7" ry="5.7" fill="none" stroke="#303030" stroke-width="1.15"/>
<ellipse cx="906" cy="157.5" rx="11.7" ry="11.7" fill="none" stroke="#303030" stroke-width="1.15"/>
<ellipse cx="906" cy="157.5" rx="5.7" ry="5.7" fill="none" stroke="#303030" stroke-width="1.15"/>
<text x="738" y="135.6" font-family='"Liberation Sans", sans-serif' font-size="17" font-weight="normal" fill="#1c1c1c" textLength="22.4" lengthAdjust="spacingAndGlyphs" stroke="#1c1c1c" stroke-width="0.2">(a)</text>
<text x="994.3" y="140.5" font-family='"Liberation Serif", serif' font-size="16" font-weight="bold" fill="#1c1c1c" stroke="#1c1c1c" stroke-width="0.15" textLength="14.6" lengthAdjust="spacingAndGlyphs" >121</text>
<path d="M972.25,135 C980,134.4 986,136 992.3,135.5" fill="none" stroke="#2a2a2a" stroke-width="1.1" />
<text x="994.3" y="162.5" font-family='"Liberation Serif", serif' font-size="16" font-weight="bold" fill="#1c1c1c" stroke="#1c1c1c" stroke-width="0.15" textLength="16" lengthAdjust="spacingAndGlyphs" >213</text>
<path d="M953.5,157 C968,156 980,158.6 992.3,158" fill="none" stroke="#2a2a2a" stroke-width="1.1" />
<text x="994.3" y="206.6" font-family='"Liberation Serif", serif' font-size="16" font-weight="bold" fill="#1c1c1c" stroke="#1c1c1c" stroke-width="0.15" textLength="14.6" lengthAdjust="spacingAndGlyphs" >211</text>
<path d="M959,200.6 C972,200 982,202.6 992.3,202" fill="none" stroke="#2a2a2a" stroke-width="1.1" />
<text x="899" y="251.2" font-family='"Liberation Serif", serif' font-size="16" font-weight="bold" fill="#1c1c1c" stroke="#1c1c1c" stroke-width="0.15" textLength="17" lengthAdjust="spacingAndGlyphs" >212</text>
<path d="M906,207.4 C906.6,218 905,228 905.4,237.6" fill="none" stroke="#2a2a2a" stroke-width="1.1" />
<clipPath id="clip5"><path d="M796.5,289.5 Q884.38,313 972.25,289.5 L972.25,464.25 Q884.38,440.75 796.5,464.25 Z"/></clipPath>
<g clip-path="url(#clip5)">
<path d="M840.5,289.5 L840.5,464.25" fill="none" stroke="#303030" stroke-width="1.25" />
<path d="M884.25,289.5 L884.25,464.25" fill="none" stroke="#303030" stroke-width="1.25" />
<path d="M928,289.5 L928,464.25" fill="none" stroke="#303030" stroke-width="1.25" />
</g>
<path d="M796.5,333.25 L972.25,333.25" fill="none" stroke="#303030" stroke-width="1.25" />
<path d="M796.5,377 L972.25,377" fill="none" stroke="#303030" stroke-width="1.25" />
<path d="M796.5,420.5 L972.25,420.5" fill="none" stroke="#303030" stroke-width="1.25" />
<path d="M796.5,289.5 Q884.38,313 972.25,289.5 " fill="none" stroke="#303030" stroke-width="1.25" />
<path d="M796.5,464.25 Q884.38,440.75 972.25,464.25 " fill="none" stroke="#303030" stroke-width="1.25" />
<path d="M796.5,289.5 L972.25,289.5 L972.25,464.25 L796.5,464.25 Z" fill="none" stroke="#303030" stroke-width="1.25" />
<ellipse cx="819" cy="311.5" rx="11.7" ry="8.2" fill="none" stroke="#303030" stroke-width="1.15"/>
<ellipse cx="819" cy="311.5" rx="5.6" ry="3.6" fill="none" stroke="#303030" stroke-width="1.15"/>
<ellipse cx="949.75" cy="311.3" rx="11.7" ry="8.2" fill="none" stroke="#303030" stroke-width="1.15"/>
<ellipse cx="949.75" cy="311.3" rx="5.6" ry="3.6" fill="none" stroke="#303030" stroke-width="1.15"/>
<ellipse cx="862.75" cy="314.8" rx="11.7" ry="6.9" fill="none" stroke="#303030" stroke-width="1.15"/>
<ellipse cx="862.75" cy="314.8" rx="5.6" ry="2.6" fill="none" stroke="#303030" stroke-width="1.15"/>
<ellipse cx="906" cy="314.8" rx="11.7" ry="6.9" fill="none" stroke="#303030" stroke-width="1.15"/>
<ellipse cx="906" cy="314.8" rx="5.6" ry="2.6" fill="none" stroke="#303030" stroke-width="1.15"/>
<ellipse cx="819" cy="355" rx="11.7" ry="11.7" fill="none" stroke="#303030" stroke-width="1.15"/>
<ellipse cx="819" cy="355" rx="5.7" ry="5.7" fill="none" stroke="#303030" stroke-width="1.15"/>
<ellipse cx="862.75" cy="355" rx="11.7" ry="11.7" fill="none" stroke="#303030" stroke-width="1.15"/>
<ellipse cx="862.75" cy="355" rx="5.7" ry="5.7" fill="none" stroke="#303030" stroke-width="1.15"/>
<ellipse cx="906" cy="355" rx="11.7" ry="11.7" fill="none" stroke="#303030" stroke-width="1.15"/>
<ellipse cx="906" cy="355" rx="5.7" ry="5.7" fill="none" stroke="#303030" stroke-width="1.15"/>
<ellipse cx="949.75" cy="355" rx="11.7" ry="11.7" fill="none" stroke="#303030" stroke-width="1.15"/>
<ellipse cx="949.75" cy="355" rx="5.7" ry="5.7" fill="none" stroke="#303030" stroke-width="1.15"/>
<ellipse cx="819" cy="398.75" rx="11.7" ry="11.7" fill="none" stroke="#303030" stroke-width="1.15"/>
<ellipse cx="819" cy="398.75" rx="5.7" ry="5.7" fill="none" stroke="#303030" stroke-width="1.15"/>
<ellipse cx="862.75" cy="398.75" rx="11.7" ry="11.7" fill="none" stroke="#303030" stroke-width="1.15"/>
<ellipse cx="862.75" cy="398.75" rx="5.7" ry="5.7" fill="none" stroke="#303030" stroke-width="1.15"/>
<ellipse cx="906" cy="398.75" rx="11.7" ry="11.7" fill="none" stroke="#303030" stroke-width="1.15"/>
<ellipse cx="906" cy="398.75" rx="5.7" ry="5.7" fill="none" stroke="#303030" stroke-width="1.15"/>
<ellipse cx="949.75" cy="398.75" rx="11.7" ry="11.7" fill="none" stroke="#303030" stroke-width="1.15"/>
<ellipse cx="949.75" cy="398.75" rx="5.7" ry="5.7" fill="none" stroke="#303030" stroke-width="1.15"/>
<ellipse cx="819" cy="442" rx="11.7" ry="8.2" fill="none" stroke="#303030" stroke-width="1.15"/>
<ellipse cx="819" cy="442" rx="5.6" ry="3.6" fill="none" stroke="#303030" stroke-width="1.15"/>
<ellipse cx="949.75" cy="442" rx="11.7" ry="8.2" fill="none" stroke="#303030" stroke-width="1.15"/>
<ellipse cx="949.75" cy="442" rx="5.6" ry="3.6" fill="none" stroke="#303030" stroke-width="1.15"/>
<ellipse cx="862.75" cy="438.8" rx="11.7" ry="6.9" fill="none" stroke="#303030" stroke-width="1.15"/>
<ellipse cx="862.75" cy="438.8" rx="5.6" ry="2.6" fill="none" stroke="#303030" stroke-width="1.15"/>
<ellipse cx="906" cy="438.8" rx="11.7" ry="6.9" fill="none" stroke="#303030" stroke-width="1.15"/>
<ellipse cx="906" cy="438.8" rx="5.6" ry="2.6" fill="none" stroke="#303030" stroke-width="1.15"/>
<text x="738.8" y="377" font-family='"Liberation Serif", serif' font-size="16.5" font-weight="normal" fill="#1c1c1c" textLength="22" lengthAdjust="spacingAndGlyphs" stroke="#1c1c1c" stroke-width="0.25">(b)</text>
<text x="878.5" y="268.7" font-family='"Liberation Serif", serif' font-size="16" font-weight="bold" fill="#1c1c1c" stroke="#1c1c1c" stroke-width="0.15" textLength="14.3" lengthAdjust="spacingAndGlyphs" >121</text>
<path d="M884.25,270 C884.8,277 883,283 883.5,289.5" fill="none" stroke="#2a2a2a" stroke-width="1.1" />
<text x="900.5" y="268.7" font-family='"Liberation Serif", serif' font-size="16" font-weight="bold" fill="#1c1c1c" stroke="#1c1c1c" stroke-width="0.15" textLength="16.7" lengthAdjust="spacingAndGlyphs" >213</text>
<path d="M906.75,270 C907.6,285 904.6,298 905.25,312.5" fill="none" stroke="#2a2a2a" stroke-width="1.1" />
<text x="945.25" y="268.7" font-family='"Liberation Serif", serif' font-size="16" font-weight="bold" fill="#1c1c1c" stroke="#1c1c1c" stroke-width="0.15" textLength="14.5" lengthAdjust="spacingAndGlyphs" >211</text>
<path d="M951.75,270 C952.6,284 949.8,297 950.5,310" fill="none" stroke="#2a2a2a" stroke-width="1.1" />
<text x="994.3" y="358.3" font-family='"Liberation Serif", serif' font-size="16" font-weight="bold" fill="#1c1c1c" stroke="#1c1c1c" stroke-width="0.15" textLength="16" lengthAdjust="spacingAndGlyphs" >212</text>
<path d="M959,353 C972,352.4 982,354.4 992.3,353.8" fill="none" stroke="#2a2a2a" stroke-width="1.1" />
<path d="M841,519.25 Q853.5,606.62 841,694 " fill="none" stroke="#303030" stroke-width="1.25" />
<path d="M884.25,519.25 L884.25,694" fill="none" stroke="#303030" stroke-width="1.25" />
<path d="M928,519.25 Q915,606.62 928,694 " fill="none" stroke="#303030" stroke-width="1.25" />
<path d="M796.5,563 Q884.38,576 972.25,563 " fill="none" stroke="#303030" stroke-width="1.25" />
<path d="M796.5,606.25 L972.25,606.25" fill="none" stroke="#303030" stroke-width="1.25" />
<path d="M796.5,650.5 Q884.38,638 972.25,650.5 " fill="none" stroke="#303030" stroke-width="1.25" />
<path d="M796.5,519.25 L972.25,519.25 L972.25,694 L796.5,694 Z" fill="none" stroke="#303030" stroke-width="1.25" />
<ellipse cx="819" cy="541.25" rx="11.7" ry="13.7" fill="none" stroke="#303030" stroke-width="1.15"/>
<ellipse cx="819" cy="541.25" rx="5.6" ry="7.4" fill="none" stroke="#303030" stroke-width="1.15"/>
<ellipse cx="949.75" cy="541.25" rx="11.7" ry="13.7" fill="none" stroke="#303030" stroke-width="1.15"/>
<ellipse cx="949.75" cy="541.25" rx="5.6" ry="7.4" fill="none" stroke="#303030" stroke-width="1.15"/>
<ellipse cx="864.75" cy="545" rx="11.7" ry="15" fill="none" stroke="#303030" stroke-width="1.15"/>
<ellipse cx="864.75" cy="545" rx="5" ry="8.6" fill="none" stroke="#303030" stroke-width="1.15"/>
<ellipse cx="904" cy="545" rx="11.7" ry="15" fill="none" stroke="#303030" stroke-width="1.15"/>
<ellipse cx="904" cy="545" rx="5" ry="8.6" fill="none" stroke="#303030" stroke-width="1.15"/>
<ellipse cx="821" cy="586.25" rx="11.7" ry="10" fill="none" stroke="#303030" stroke-width="1.15"/>
<ellipse cx="821" cy="586.25" rx="5.6" ry="4.6" fill="none" stroke="#303030" stroke-width="1.15"/>
<ellipse cx="947.25" cy="586.25" rx="11.7" ry="10" fill="none" stroke="#303030" stroke-width="1.15"/>
<ellipse cx="947.25" cy="586.25" rx="5.6" ry="4.6" fill="none" stroke="#303030" stroke-width="1.15"/>
<ellipse cx="866" cy="588.75" rx="11.7" ry="8.7" fill="none" stroke="#303030" stroke-width="1.15"/>
<ellipse cx="866" cy="588.75" rx="5.6" ry="4.2" fill="none" stroke="#303030" stroke-width="1.15"/>
<ellipse cx="902.75" cy="588.75" rx="11.7" ry="8.7" fill="none" stroke="#303030" stroke-width="1.15"/>
<ellipse cx="902.75" cy="588.75" rx="5.6" ry="4.2" fill="none" stroke="#303030" stroke-width="1.15"/>
<ellipse cx="821" cy="627" rx="11.7" ry="10" fill="none" stroke="#303030" stroke-width="1.15"/>
<ellipse cx="821" cy="627" rx="5.6" ry="4.6" fill="none" stroke="#303030" stroke-width="1.15"/>
<ellipse cx="947.25" cy="627" rx="11.7" ry="10" fill="none" stroke="#303030" stroke-width="1.15"/>
<ellipse cx="947.25" cy="627" rx="5.6" ry="4.6" fill="none" stroke="#303030" stroke-width="1.15"/>
<ellipse cx="866" cy="623.75" rx="11.7" ry="8.7" fill="none" stroke="#303030" stroke-width="1.15"/>
<ellipse cx="866" cy="623.75" rx="5.6" ry="4.2" fill="none" stroke="#303030" stroke-width="1.15"/>
<ellipse cx="902.75" cy="623.75" rx="11.7" ry="8.7" fill="none" stroke="#303030" stroke-width="1.15"/>
<ellipse cx="902.75" cy="623.75" rx="5.6" ry="4.2" fill="none" stroke="#303030" stroke-width="1.15"/>
<ellipse cx="818.8" cy="671.3" rx="11.7" ry="13.7" fill="none" stroke="#303030" stroke-width="1.15"/>
<ellipse cx="818.8" cy="671.3" rx="5.6" ry="7.4" fill="none" stroke="#303030" stroke-width="1.15"/>
<ellipse cx="950" cy="671.3" rx="11.7" ry="13.7" fill="none" stroke="#303030" stroke-width="1.15"/>
<ellipse cx="950" cy="671.3" rx="5.6" ry="7.4" fill="none" stroke="#303030" stroke-width="1.15"/>
<ellipse cx="864.9" cy="668.6" rx="11.7" ry="15" fill="none" stroke="#303030" stroke-width="1.15"/>
<ellipse cx="864.9" cy="668.6" rx="5" ry="8.6" fill="none" stroke="#303030" stroke-width="1.15"/>
<ellipse cx="904" cy="668.6" rx="11.7" ry="15" fill="none" stroke="#303030" stroke-width="1.15"/>
<ellipse cx="904" cy="668.6" rx="5" ry="8.6" fill="none" stroke="#303030" stroke-width="1.15"/>
<text x="738.7" y="612.5" font-family='"Liberation Serif", serif' font-size="16.5" font-weight="normal" fill="#1c1c1c" textLength="21.5" lengthAdjust="spacingAndGlyphs" stroke="#1c1c1c" stroke-width="0.25">(c)</text>
<text x="899" y="497.4" font-family='"Liberation Serif", serif' font-size="16" font-weight="bold" fill="#1c1c1c" stroke="#1c1c1c" stroke-width="0.15" textLength="17" lengthAdjust="spacingAndGlyphs" >212</text>
<path d="M905.25,498.75 C906.2,509 903,519 903.5,528.75" fill="none" stroke="#2a2a2a" stroke-width="1.1" />
<text x="994.3" y="546.7" font-family='"Liberation Serif", serif' font-size="16" font-weight="bold" fill="#1c1c1c" stroke="#1c1c1c" stroke-width="0.15" textLength="14.6" lengthAdjust="spacingAndGlyphs" >211</text>
<path d="M959,541.25 C972,540.6 982,542.6 992.3,542" fill="none" stroke="#2a2a2a" stroke-width="1.1" />
<text x="994.3" y="591.2" font-family='"Liberation Serif", serif' font-size="16" font-weight="bold" fill="#1c1c1c" stroke="#1c1c1c" stroke-width="0.15" textLength="16" lengthAdjust="spacingAndGlyphs" >213</text>
<path d="M958.5,585.5 C972,584.9 982,586.9 992.3,586.25" fill="none" stroke="#2a2a2a" stroke-width="1.1" />
<text x="994.3" y="633.7" font-family='"Liberation Serif", serif' font-size="16" font-weight="bold" fill="#1c1c1c" stroke="#1c1c1c" stroke-width="0.15" textLength="14.6" lengthAdjust="spacingAndGlyphs" >121</text>
<path d="M972.25,628 C980,627.4 986,629 992.3,628.5" fill="none" stroke="#2a2a2a" stroke-width="1.1" />
</g>
</svg>
</body></html>
